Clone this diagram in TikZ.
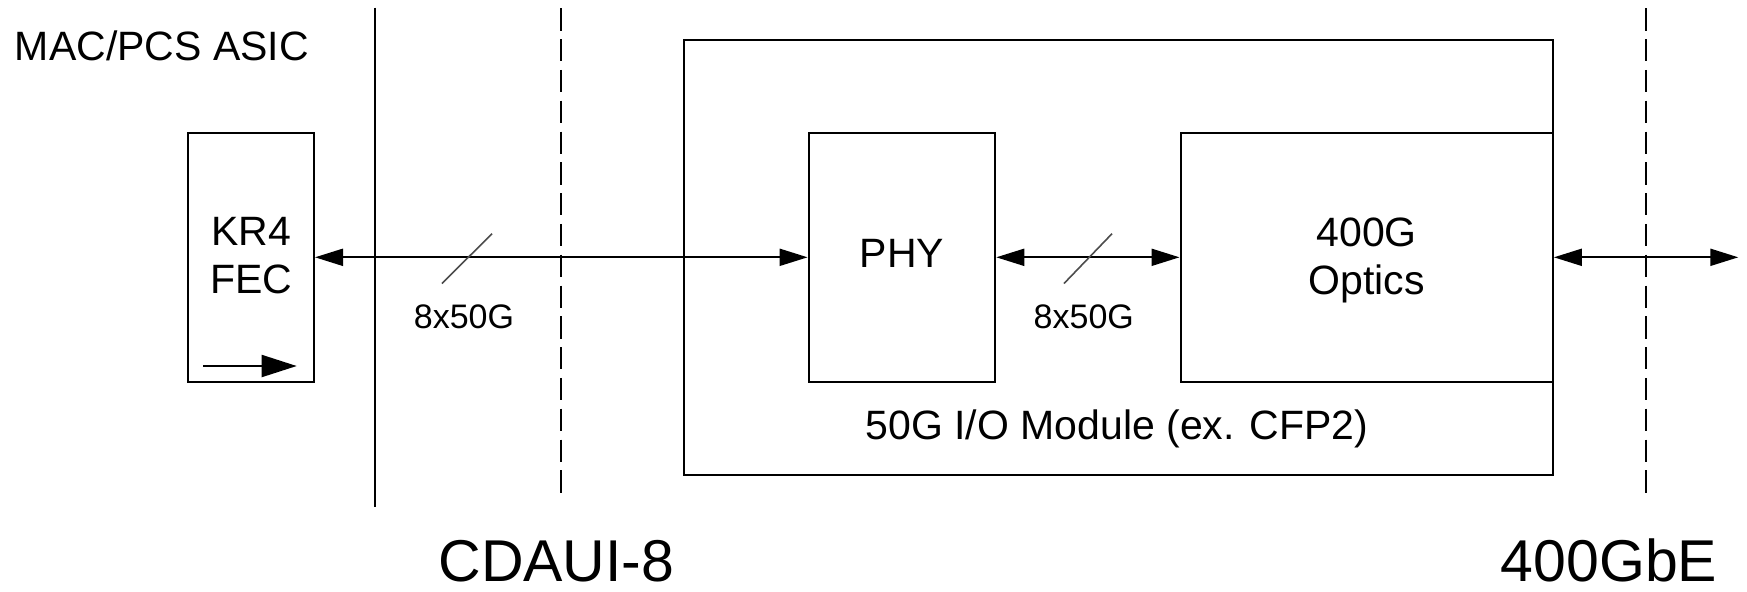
\documentclass[tikz,border=0pt]{standalone}
\usepackage{fontspec}
\setmainfont{Liberation Sans}
\usetikzlibrary{arrows.meta}
\begin{document}
\begin{tikzpicture}[x=0.5pt,y=-0.5pt,
  box/.style={draw,line width=1pt,inner sep=0pt,align=center,
    font=\fontsize{20.5}{24.1}\selectfont},
  link/.style={line width=1pt,{Triangle[length=14pt,width=8.5pt]}-{Triangle[length=14pt,width=8.5pt]}},
  slash/.style={line width=0.8pt,black!70},
  lanes/.style={inner sep=0pt,anchor=base,font=\fontsize{17}{20}\selectfont},
  bigtxt/.style={inner sep=0pt,anchor=base west,font=\fontsize{29.5}{35}\selectfont},
  midtxt/.style={inner sep=0pt,font=\fontsize{20.5}{24}\selectfont},
  border/.style={line width=1pt},
  refline/.style={line width=1pt,dash pattern=on 11.15pt off 4.25pt}
]
\useasboundingbox (0,0) rectangle (1747,591);

% reference lines
\coordinate (s1) at (374.5,7.5);   \coordinate (s2) at (374.5,507);
\coordinate (d1) at (560.8,8.3);   \coordinate (d2) at (560.8,497);
\coordinate (e1) at (1645.8,8.3);  \coordinate (e2) at (1645.8,497);
\draw[border] (s1) -- (s2);
\draw[refline] (d1) -- (d2);
\draw[refline] (e1) -- (e2);

% boxes
\node[box,minimum width=434.35pt,minimum height=217.7pt] (mod) at (1118.55,257.3) {};
\node[box,minimum width=63pt,minimum height=124.55pt,text depth=1.9pt] (fec) at (251,257.3) {KR4\\FEC};
\node[box,minimum width=93.35pt,minimum height=124.55pt,text depth=3.8pt] (phy) at (901.95,257.3) {PHY};
\node[box,minimum width=186.2pt,minimum height=124.55pt,text depth=1.4pt] (opt) at (1366.7,257.3) {400G\\Optics};

% texts
\node[midtxt,anchor=base west] (asic) at (14.5,60.3) {MAC/PCS ASIC};
\node[midtxt,anchor=base] (modlbl) at (1117,439.1) {50G I/O Module (ex. CFP2)};
\node[bigtxt] (cdaui) at (438,581) {CDAUI-8};
\node[bigtxt] (gbe) at (1500.3,581) {400GbE};

% connectors
\draw[link] (fec.east) -- (phy.west);
\draw[link] (phy.east) -- (opt.west);
\coordinate (out) at (1738.3,257.3);
\draw[link] (opt.east) -- (out);

% FEC direction arrow
\coordinate (fa1) at (203.3,366);
\coordinate (fa2) at (296.7,366);
\draw[line width=1pt,-{Triangle[length=17.5pt,width=11pt]}] (fa1) -- (fa2);

% lane slashes
\coordinate (sl1a) at (442,283.5); \coordinate (sl1b) at (492,233.7);
\coordinate (sl2a) at (1064,283.5); \coordinate (sl2b) at (1112,233.7);
\draw[slash] (sl1a) -- (sl1b);
\draw[slash] (sl2a) -- (sl2b);
\node[lanes] (l1) at (464,328.5) {8x50G};
\node[lanes] (l2) at (1083.8,328.5) {8x50G};
\end{tikzpicture}
\end{document}
